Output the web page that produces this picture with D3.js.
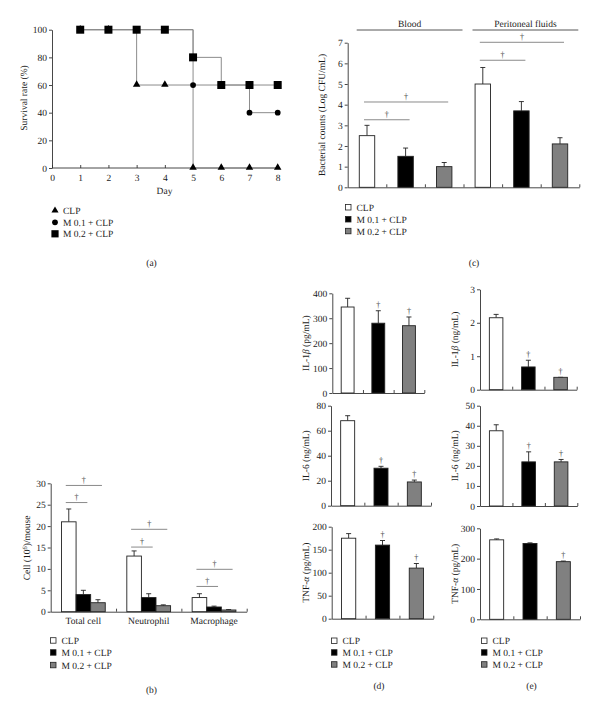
<!DOCTYPE html>
<html><head><meta charset="utf-8">
<script src="https://cdn.jsdelivr.net/npm/d3@7"></script>
<style>body{margin:0;background:#fff}svg{display:block}</style>
</head><body>
<svg id="c" width="600" height="712"></svg>
<script>
// ---------------- DATA ----------------
const groups = ["CLP", "M 0.1 + CLP", "M 0.2 + CLP"];

// (a) survival
const days = [1, 2, 3, 4, 5, 6, 7, 8];
const dayTicks = [0, 1, 2, 3, 4, 5, 6, 7, 8];
const survivalTicks = [0, 20, 40, 60, 80, 100];
const survivalCLP = [100, 100, 60, 60, 0, 0, 0, 0];
const survivalM01 = [100, 100, 100, 100, 60, 60, 40, 40];
const survivalM02 = [100, 100, 100, 100, 80, 60, 60, 60];

// (c) bacterial counts
const sites = ["Blood", "Peritoneal fluids"];
const bacteriaTicks = [0, 1, 2, 3, 4, 5, 6, 7];
const bacteriaMean = [[2.5, 1.5, 1.0], [5.0, 3.7, 2.1]];
const bacteriaErr = [[0.5, 0.4, 0.2], [0.8, 0.45, 0.3]];
const bacteriaSig = [[3.27, 4.13], [6.15, 7.02]];

// (b) peritoneal cells
const cellTypes = ["Total cell", "Neutrophil", "Macrophage"];
const cellTicks = [0, 5, 10, 15, 20, 25, 30];
const cellMean = [[21, 4, 2.1], [13, 3.3, 1.4], [3.3, 1.1, 0.4]];
const cellErr = [[3, 1, 0.7], [1.2, 0.9, 0.2], [0.9, 0.2, 0.1]];
const cellSig = [[25.5, 29.5], [15.1, 19.25], [5.9, 9.9]];

// (d) serum cytokines
const il1bD = [345, 280, 270], il1bDErr = [35, 50, 35], il1bDTicks = [0, 100, 200, 300, 400];
const il6D = [68, 30, 19], il6DErr = [4, 1.5, 1.5], il6DTicks = [0, 20, 40, 60, 80];
const tnfD = [175, 160, 110], tnfDErr = [10, 10, 10], tnfDTicks = [0, 50, 100, 150, 200];
const daggerD = [[0, 1, 1], [0, 1, 1], [0, 1, 1]];
// (e) peritoneal cytokines
const il1bE = [2.15, 0.68, 0.37], il1bEErr = [0.1, 0.2, 0], il1bETicks = [0, 1, 2, 3];
const il6E = [37.5, 22, 22], il6EErr = [3, 5, 1.2], il6ETicks = [0, 10, 20, 30, 40, 50];
const tnfE = [262, 250, 190], tnfEErr = [3, 2, 2], tnfETicks = [0, 100, 200, 300];
const daggerE = [[0, 1, 1], [0, 1, 1], [0, 0, 1]];

// ---------------- STYLE ----------------
const FONT = "'Liberation Serif', 'Times New Roman', serif";
const FILL = ["#ffffff", "#000000", "#808080"];
const AXC = "#333";
const SIG = "#8a8a8a";
const TXT = "#1a1a1a";
const svg = d3.select("#c").style("font-family", FONT).attr("text-rendering", "geometricPrecision");

function styleAxis(g, fs) {
  g.selectAll("path,line").attr("stroke", AXC).attr("stroke-width", 0.9);
  g.selectAll("text").attr("font-family", FONT).attr("font-size", fs || 9.5).attr("fill", TXT);
}
function yTitle(x, yc, parts) {
  const t = svg.append("text").attr("transform", `translate(${x},${yc}) rotate(-90)`)
    .attr("text-anchor", "middle").attr("font-size", 9.5).attr("fill", TXT);
  parts.forEach(p => {
    const s = t.append("tspan").text(p.t);
    if (p.i) s.attr("font-style", "italic");
    if (p.sup) s.attr("baseline-shift", "super").attr("font-size", 6.5);
  });
}
function legend(x, ys, kind) {
  groups.forEach((gname, i) => {
    if (kind === "sym") {
      const sym = [d3.symbolTriangle, d3.symbolCircle, d3.symbolSquare][i];
      const size = [22, 26, 52][i];
      svg.append("path").attr("d", d3.symbol(sym, size)())
        .attr("transform", `translate(${x + 3},${ys[i]})`).attr("fill", "#000");
    } else {
      svg.append("rect").attr("x", x).attr("y", ys[i] - 3).attr("width", 5.5).attr("height", 5.5)
        .attr("fill", FILL[i]).attr("stroke", "#222").attr("stroke-width", 0.8);
    }
    svg.append("text").attr("x", x + 11).attr("y", ys[i] + 3.3)
      .attr("font-size", 9.5).attr("fill", TXT).text(gname);
  });
}
function panelLabel(x, y, s) {
  svg.append("text").attr("x", x).attr("y", y).attr("text-anchor", "middle")
    .attr("font-size", 9.5).attr("fill", TXT).text(s);
}
const daggerLayer = () => svg.select("g.daggers").empty() ? svg.append("g").attr("class", "daggers") : svg.select("g.daggers");
function dagger(x, y) {
  daggerLayer().append("text").attr("transform", `translate(${x},${y}) rotate(0.3)`).attr("text-anchor", "middle")
    .attr("font-family", FONT).attr("font-size", 9).attr("fill", "#555").attr("opacity", 0.98).text("\u2020");
}
function bar(x, w, y, v, err, i) {
  const top = y(v);
  svg.append("line").attr("x1", x + w / 2).attr("x2", x + w / 2).attr("y1", top).attr("y2", y(v + err))
    .attr("stroke", "#222").attr("stroke-width", 0.9);
  svg.append("line").attr("x1", x + w / 2 - 2.5).attr("x2", x + w / 2 + 2.5).attr("y1", y(v + err)).attr("y2", y(v + err))
    .attr("stroke", "#222").attr("stroke-width", 0.9);
  svg.append("rect").attr("x", x).attr("y", top).attr("width", w).attr("height", y(0) - top)
    .attr("fill", FILL[i]).attr("stroke", "#222").attr("stroke-width", 0.9);
}
function xBaseAxis(x0, x1, y0, n) {
  const s = d3.scaleLinear().domain([0, n]).range([x0, x1]);
  const g = svg.append("g").attr("transform", `translate(0,${y0})`)
    .call(d3.axisBottom(s).tickValues(d3.range(1, n + 1)).tickSize(-3).tickSizeOuter(0).tickFormat(""));
  styleAxis(g);
}
function yAxis(x0, y, ticks) {
  const g = svg.append("g").attr("transform", `translate(${x0},0)`)
    .call(d3.axisLeft(y).tickValues(ticks).tickSize(3).tickPadding(2).tickSizeOuter(0).tickFormat(d3.format("d")));
  styleAxis(g);
}

// ---------------- (a) survival ----------------
(function () {
  const x = d3.scaleLinear().domain([0, 8]).range([52, 277.7]);
  const y = d3.scaleLinear().domain([0, 100]).range([168, 29.7]);
  const gx = svg.append("g").attr("transform", "translate(0,168)")
    .call(d3.axisBottom(x).tickValues(dayTicks).tickSize(-3).tickSizeOuter(0).tickPadding(6));
  styleAxis(gx);
  gx.select(".domain").attr("d", `M52,0H279`);
  yAxis(52, y, survivalTicks);
  svg.append("text").attr("x", 164.5).attr("y", 194).attr("text-anchor", "middle")
    .attr("font-size", 9.5).attr("fill", TXT).text("Day");
  yTitle(27, 98, [{ t: "Survival rate (%)" }]);
  const series = [survivalCLP, survivalM01, survivalM02];
  const line = d3.line().x((d, i) => x(days[i])).y(d => y(d)).curve(d3.curveStepAfter);
  series.forEach(s => {
    svg.append("path").attr("d", line(s)).attr("fill", "none").attr("stroke", "#8c8c8c").attr("stroke-width", 1);
  });
  const syms = [d3.symbolTriangle, d3.symbolCircle, d3.symbolSquare];
  const sizes = [24, 26, 64];
  series.forEach((s, k) => {
    s.forEach((v, i) => {
      svg.append("path").attr("d", d3.symbol(syms[k], sizes[k])())
        .attr("transform", `translate(${x(days[i])},${y(v) + (k === 0 ? -0.5 : 0)})`).attr("fill", "#000");
    });
  });
  legend(52, [210.5, 222.3, 233.8], "sym");
  panelLabel(151.5, 265.5, "(a)");
})();

// ---------------- (c) bacterial counts ----------------
(function () {
  const x0 = 347.7, x1 = 579.3, y0 = 187.3;
  const y = d3.scaleLinear().domain([0, 7]).range([y0, 42.7]);
  const slots = d3.range(6);
  const xb = d3.scaleBand().domain(slots).range([x0, x1]).paddingInner(0.6).paddingOuter(0.3);
  const slotW = (x1 - x0) / 6;
  sites.forEach((site, s) => {
    bacteriaMean[s].forEach((v, i) => bar(xb(s * 3 + i), xb.bandwidth(), y, v, bacteriaErr[s][i], i));
    const hx0 = x0 + s * 3 * slotW + 9, hx1 = x0 + (s + 1) * 3 * slotW - 1;
    svg.append("line").attr("x1", hx0).attr("x2", hx1).attr("y1", 30).attr("y2", 30).attr("stroke", "#444").attr("stroke-width", 0.9);
    svg.append("text").attr("x", (hx0 + hx1) / 2).attr("y", 27).attr("text-anchor", "middle")
      .attr("font-size", 9.5).attr("fill", TXT).text(site);
    const c0 = xb(s * 3) + xb.bandwidth() / 2;
    bacteriaSig[s].forEach((lvl, k) => {
      const c1 = xb(s * 3 + k + 1) + xb.bandwidth() / 2;
      const a = c0 - 3, b = c1 + 4;
      svg.append("line").attr("x1", a).attr("x2", b).attr("y1", y(lvl)).attr("y2", y(lvl)).attr("stroke", SIG).attr("stroke-width", 1);
      dagger((a + b) / 2, y(lvl) - 2.5);
    });
  });
  xBaseAxis(x0, x1, y0, 6);
  yAxis(x0, y, bacteriaTicks);
  yTitle(325, 115, [{ t: "Bacterial counts (Log CFU/mL)" }]);
  legend(345.5, [207.5, 219.5, 231.3], "box");
  panelLabel(474, 266, "(c)");
})();

// ---------------- (b) cells ----------------
(function () {
  const x0 = 50.7, x1 = 246.7, y0 = 611.7;
  const y = d3.scaleLinear().domain([0, 30]).range([y0, 483.3]);
  const xg = d3.scaleBand().domain(cellTypes).range([x0, x1]).paddingInner(0.33).paddingOuter(0.165);
  const xi = d3.scaleBand().domain(d3.range(3)).range([0, xg.bandwidth()]);
  cellTypes.forEach((ct, c) => {
    cellMean[c].forEach((v, i) => bar(xg(ct) + xi(i), xi.bandwidth(), y, v, cellErr[c][i], i));
    const c0 = xg(ct) + xi(0) + xi.bandwidth() / 2;
    cellSig[c].forEach((lvl, k) => {
      const c1 = xg(ct) + xi(k + 1) + xi.bandwidth() / 2;
      const a = c0 - 3, b = c1 + 4;
      svg.append("line").attr("x1", a).attr("x2", b).attr("y1", y(lvl)).attr("y2", y(lvl)).attr("stroke", SIG).attr("stroke-width", 1);
      dagger((a + b) / 2, y(lvl) - 2.5);
    });
    svg.append("text").attr("x", xg(ct) + xg.bandwidth() / 2).attr("y", 623.5).attr("text-anchor", "middle")
      .attr("font-size", 9.5).attr("fill", TXT).text(ct);
  });
  xBaseAxis(x0, x1, y0, 3);
  yAxis(x0, y, cellTicks);
  yTitle(30, 548, [{ t: "Cell (10" }, { t: "6", sup: true }, { t: ")/mouse" }]);
  legend(50.5, [640.7, 652.7, 665.3], "box");
  panelLabel(151.5, 693, "(b)");
})();

// ---------------- (d),(e) cytokines ----------------
function cytoPanel(o) {
  const y = d3.scaleLinear().domain([0, o.max]).range([o.y0, o.yTop]);
  const xb = d3.scaleBand().domain(d3.range(3)).range([o.x0, o.x1]).paddingInner(0.58).paddingOuter(0.29);
  o.vals.forEach((v, i) => {
    bar(xb(i), xb.bandwidth(), y, v, o.errs[i], i);
    if (o.dag[i]) dagger(xb(i) + xb.bandwidth() / 2, y(v + o.errs[i]) - 3);
  });
  xBaseAxis(o.x0, o.x1, o.y0, 3);
  yAxis(o.x0, y, o.ticks);
  yTitle(o.tx, (o.y0 + o.yTop) / 2, o.title);
}
const IL1 = u => [{ t: "IL-1" }, { t: "\u03B2", i: true }, { t: ` (${u})` }];
const IL6 = u => [{ t: `IL-6 (${u})` }];
const TNF = u => [{ t: "TNF-" }, { t: "\u03B1", i: true }, { t: ` (${u})` }];

cytoPanel({ x0: 332.3, x1: 424.3, y0: 393, yTop: 293.3, max: 400, ticks: il1bDTicks, vals: il1bD, errs: il1bDErr, dag: daggerD[0], tx: 309, title: IL1("pg/mL") });
cytoPanel({ x0: 331, x1: 431, y0: 505.7, yTop: 405.7, max: 80, ticks: il6DTicks, vals: il6D, errs: il6DErr, dag: daggerD[1], tx: 309, title: IL6("ng/mL") });
cytoPanel({ x0: 331.7, x1: 433.3, y0: 618.7, yTop: 526.7, max: 200, ticks: tnfDTicks, vals: tnfD, errs: tnfDErr, dag: daggerD[2], tx: 309, title: TNF("pg/mL") });
cytoPanel({ x0: 480, x1: 576.7, y0: 389.7, yTop: 289.3, max: 3, ticks: il1bETicks, vals: il1bE, errs: il1bEErr, dag: daggerE[0], tx: 458, title: IL1("ng/mL") });
cytoPanel({ x0: 480, x1: 577.3, y0: 506, yTop: 405.7, max: 50, ticks: il6ETicks, vals: il6E, errs: il6EErr, dag: daggerE[1], tx: 458, title: IL6("ng/mL") });
cytoPanel({ x0: 480, x1: 580, y0: 619.3, yTop: 528.3, max: 300, ticks: tnfETicks, vals: tnfE, errs: tnfEErr, dag: daggerE[2], tx: 458, title: TNF("pg/mL") });

legend(331.5, [641, 652.7, 664.7], "box");
legend(481.5, [641, 652.7, 664.7], "box");
panelLabel(379, 689, "(d)");
panelLabel(531.5, 689, "(e)");
</script>
</body></html>
